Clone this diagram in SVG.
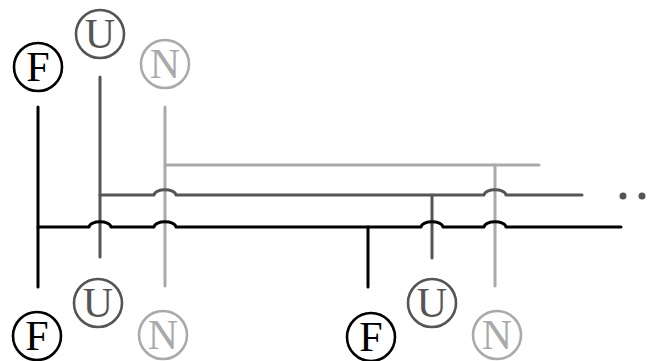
<svg xmlns="http://www.w3.org/2000/svg" width="657" height="361" viewBox="0 0 657 361">
<style>
.c{fill:#fff;stroke-width:2.6}
.t{font-family:"Liberation Serif","DejaVu Serif",serif;font-size:42px;text-anchor:middle}
.k{stroke:#000}.kt{fill:#000}
.d{stroke:#555}.dt{fill:#555}
.l{stroke:#aaa}.lt{fill:#aaa}
.w{fill:none;stroke-width:3;stroke-linecap:round;stroke-linejoin:round}
</style>
<rect width="657" height="361" fill="#fff"/>
<g id="connectors">
<path class="w k" d="M38,107 V287"/>
<path class="w d" d="M100,77 V257"/>
<path class="w l" d="M165,107 V286"/>
<path class="w k" d="M368,227 V287"/>
<path class="w d" d="M432,195 V258"/>
<path class="w l" d="M495,165 V286"/>
<path class="w l" d="M165,165 H539"/>
<path class="w d" d="M100,195 H154 C155,188 175,188 176,195 H484 C485,188 505,188 506,195 H582"/>
<path class="w k" d="M38,227 H89 C90,220 110,220 111,227 H154 C155,220 175,220 176,227 H421 C422,220 442,220 443,227 H484 C485,220 505,220 506,227 H621"/>
<circle cx="623" cy="196" r="3.5" fill="#555"/>
<circle cx="642" cy="196" r="3.5" fill="#555"/>
</g>
<g id="F-top"><circle class="c k" cx="38" cy="67" r="24"/><text class="t kt" x="38" y="81">F</text></g>
<g id="U-top"><circle class="c d" cx="100" cy="34" r="24"/><text class="t dt" x="100" y="48">U</text></g>
<g id="N-top"><circle class="c l" cx="165" cy="64" r="24"/><text class="t lt" x="165" y="78">N</text></g>
<g id="F-bottom-1"><circle class="c k" cx="37" cy="336" r="24"/><text class="t kt" x="37" y="350">F</text></g>
<g id="U-bottom-1"><circle class="c d" cx="98" cy="303" r="24"/><text class="t dt" x="98" y="317">U</text></g>
<g id="N-bottom-1"><circle class="c l" cx="163" cy="335" r="24"/><text class="t lt" x="163" y="349">N</text></g>
<g id="F-bottom-2"><circle class="c k" cx="371" cy="337" r="24"/><text class="t kt" x="371" y="351">F</text></g>
<g id="U-bottom-2"><circle class="c d" cx="432" cy="303" r="24"/><text class="t dt" x="432" y="317">U</text></g>
<g id="N-bottom-2"><circle class="c l" cx="497" cy="335" r="24"/><text class="t lt" x="497" y="349">N</text></g>
</svg>
